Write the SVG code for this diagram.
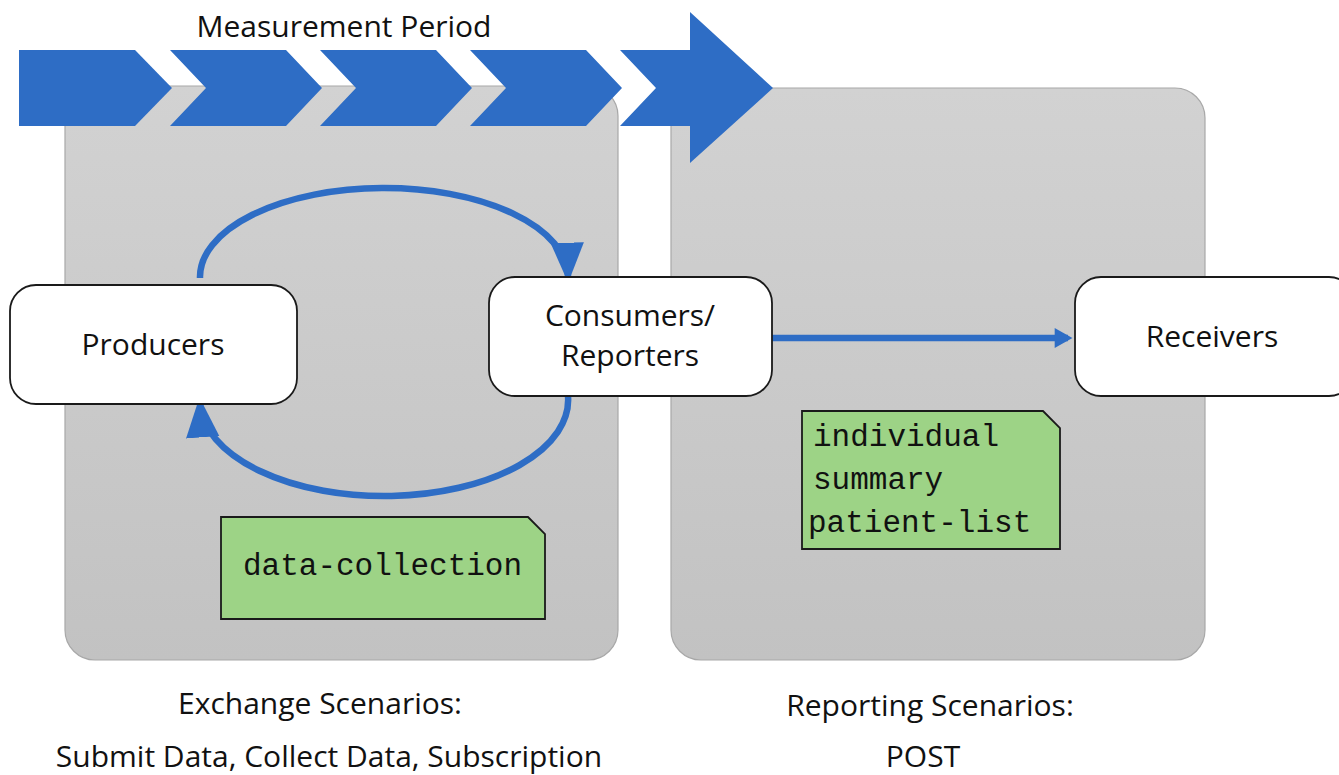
<svg xmlns="http://www.w3.org/2000/svg" width="1339" height="775" viewBox="0 0 1339 775">
<defs>
<linearGradient id="panelGrad" x1="0" y1="0" x2="0" y2="1">
<stop offset="0" stop-color="#D2D2D2"/>
<stop offset="1" stop-color="#C2C2C2"/>
</linearGradient>
<marker id="arrowHead" markerUnits="userSpaceOnUse" markerWidth="40" markerHeight="40" viewBox="0 0 36 30" refX="30" refY="15" orient="auto">
<path d="M0,0 L36,15 L0,30 Z" fill="#2E6DC5"/>
</marker>
<marker id="arrowSmall" markerUnits="userSpaceOnUse" markerWidth="20" markerHeight="20" viewBox="0 0 16 18" refX="12" refY="9" orient="auto">
<path d="M0,0 L16,9 L0,18 Z" fill="#2E6DC5"/>
</marker>
</defs>
<style>
.panel{fill:url(#panelGrad);stroke:#A8A8A8;stroke-width:1.2}
.chev{fill:#2E6DC5}
.node{fill:#FFFFFF;stroke:#1A1A1A;stroke-width:1.8}
.note{fill:#9DD386;stroke:#1A1A1A;stroke-width:1.8}
.lbl{font-family:"Open Sans","Noto Sans","Liberation Sans",sans-serif;font-size:30px;fill:#111111;text-anchor:middle}
.mono{font-family:"Liberation Mono","Courier New",monospace;font-size:31px;fill:#111111}
.conn{fill:none;stroke:#2E6DC5;stroke-width:6.5}
</style>
<rect width="1339" height="775" fill="#FFFFFF"/>

<g id="panel-exchange">
<rect class="panel" x="65" y="86" width="553" height="574" rx="30"/>
</g>
<g id="panel-reporting">
<rect class="panel" x="671" y="88" width="534" height="572" rx="30"/>
</g>

<g id="measurement-period">
<polygon class="chev" points="19,50 135,50 172,88 135,126 19,126"/>
<polygon class="chev" points="170,50 286,50 322,88 286,126 170,126 206,88"/>
<polygon class="chev" points="320,50 436,50 472,88 436,126 320,126 356,88"/>
<polygon class="chev" points="470,50 586,50 622,88 586,126 470,126 506,88"/>
<polygon class="chev" points="620,50 690,50 690,12 773,88 690,163 690,126 620,126 656,88"/>
<text class="lbl" x="344" y="37" font-size="31">Measurement Period</text>
</g>

<g id="connectors">
<path class="conn" d="M200,278 A184,89 0 0 1 568,276" marker-end="url(#arrowHead)"/>
<path class="conn" d="M568,396 A184,96 0 0 1 200,404" marker-end="url(#arrowHead)"/>
<line class="conn" x1="772" y1="338" x2="1068" y2="338" marker-end="url(#arrowSmall)"/>
</g>

<g id="producers">
<rect class="node" x="10" y="285" width="287" height="119" rx="26"/>
<text class="lbl" x="153" y="355">Producers</text>
</g>
<g id="consumers-reporters">
<rect class="node" x="489" y="277" width="283" height="119" rx="26"/>
<text class="lbl" x="630" y="326">Consumers/</text>
<text class="lbl" x="630" y="366">Reporters</text>
</g>
<g id="receivers">
<rect class="node" x="1075" y="277" width="280" height="119" rx="26"/>
<text class="lbl" x="1212" y="347">Receivers</text>
</g>

<g id="note-data-collection">
<polygon class="note" points="221,517 528,517 545,534 545,619 221,619"/>
<text class="mono" x="243" y="575">data-collection</text>
</g>
<g id="note-reporting-types">
<polygon class="note" points="802,411 1043,411 1060,428 1060,549 802,549"/>
<text class="mono" x="813" y="446">individual</text>
<text class="mono" x="813" y="489">summary</text>
<text class="mono" x="808" y="532">patient-list</text>
</g>

<g id="caption-exchange">
<text class="lbl" x="320" y="714">Exchange Scenarios:</text>
<text class="lbl" x="329" y="767">Submit Data, Collect Data, Subscription</text>
</g>
<g id="caption-reporting">
<text class="lbl" x="930" y="716">Reporting Scenarios:</text>
<text class="lbl" x="923" y="767">POST</text>
</g>
</svg>
